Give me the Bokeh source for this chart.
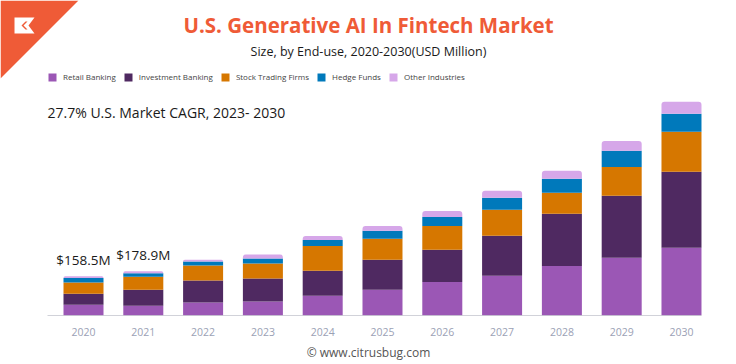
from bokeh.plotting import figure
from bokeh.models import (ColumnDataSource, Range1d, FixedTicker, Label, PolyAnnotation,
                          Legend, LegendItem)
from bokeh.core.properties import value
from bokeh.embed import file_html
from bokeh.resources import INLINE

# ---- data (USD million) ----
years = ["2020", "2021", "2022", "2023", "2024", "2025", "2026", "2027", "2028", "2029", "2030"]
retail_banking = [43.5, 40, 53, 57, 80, 104, 136, 161, 201, 234, 274]
investment_banking = [44.5, 64, 89, 93, 101, 122, 130, 162, 211, 251, 308]
stock_trading_firms = [46, 53, 61, 61, 101, 85, 97, 105, 85, 117, 162]
hedge_funds = [17.5, 14.5, 16, 20, 24, 32, 36, 49, 57, 65, 73]
other_industries = [7, 7.4, 7, 16, 16, 20, 24, 28, 32, 40, 49]
value_labels = ["$158.5M", "$178.9M"]

series = ["retail", "invest", "stock", "hedge", "other"]
names = ["Retail Banking", "Investment Banking", "Stock Trading Firms", "Hedge Funds", "Other Industries"]
colors = ["#9b57b5", "#4f2961", "#d67700", "#0079bb", "#d6a7e9"]

FONT = "Open Sans"
W, H = 736, 364
BOTTOM = 49
FH = H - BOTTOM

idx = list(range(len(years)))
src = ColumnDataSource(dict(x=idx, retail=retail_banking, invest=investment_banking,
                            stock=stock_trading_firms, hedge=hedge_funds, other=other_industries))

p = figure(width=W, height=H, output_backend="svg", toolbar_location=None,
           x_range=Range1d(-1.388, 10.920), y_range=Range1d(0, 1276),
           y_axis_location=None, min_border_left=0, min_border_right=0,
           min_border_top=0, min_border_bottom=BOTTOM)
p.outline_line_color = None
p.xgrid.grid_line_color = None
p.ygrid.grid_line_color = None
p.background_fill_color = "white"

BW = 0.669
rs = p.vbar_stack(series, x="x", width=BW, color=colors, source=src, line_color=None)
try:
    rs[-1].glyph.border_radius = (3, 3, 0, 0)
except Exception:
    pass

# baseline
p.segment(x0=[-0.602], x1=[len(years) - 1 + BW / 2], y0=[0], y1=[0], line_color="#a3a6b3", line_width=1.2)

# value labels
tot = [sum(v) for v in zip(retail_banking, investment_banking, stock_trading_firms, hedge_funds, other_industries)]
lsrc = ColumnDataSource(dict(x=idx[:len(value_labels)], y=tot[:len(value_labels)], t=value_labels))
p.text(x="x", y="y", text="t", source=lsrc, text_align="center", text_baseline="bottom",
       y_offset=-7, text_font=value(FONT), text_font_size="13.5px", text_color="#1a1a1a")

# x axis (footer credit used as axis label)
ax = p.xaxis[0]
ax.ticker = FixedTicker(ticks=idx)
ax.major_label_overrides = {i: y for i, y in zip(idx, years)}
ax.axis_line_color = None
ax.major_tick_line_color = None
ax.minor_tick_line_color = None
ax.major_label_standoff = 6
ax.major_label_text_font = FONT
ax.major_label_text_font_size = "10.5px"
ax.major_label_text_color = "#9ba1b5"
ax.axis_label = "© www.citrusbug.com"
ax.axis_label_standoff = 5
ax.axis_label_text_font = FONT
ax.axis_label_text_font_size = "12px"
ax.axis_label_text_font_style = "normal"
ax.axis_label_text_color = "#555555"


def S(px, py):
    return px, FH - py


# corner triangle and logo
tri = [S(0, 0), S(78, 0), S(0, 78)]
p.add_layout(PolyAnnotation(xs=[t[0] for t in tri], ys=[t[1] for t in tri], xs_units="screen", ys_units="screen",
                            fill_color="#ef5b37", fill_alpha=1, line_color=None))
logo = [S(14, 17), S(34, 17), S(28, 25), S(34, 33), S(14, 33)]
p.add_layout(PolyAnnotation(xs=[t[0] for t in logo], ys=[t[1] for t in logo], xs_units="screen", ys_units="screen",
                            fill_color="white", fill_alpha=1, line_color=None))
chev = [S(25, 21), S(27, 21), S(23, 25), S(27, 29), S(25, 29), S(21, 25)]
p.add_layout(PolyAnnotation(xs=[t[0] for t in chev], ys=[t[1] for t in chev], xs_units="screen", ys_units="screen",
                            fill_color="#ef5b37", fill_alpha=1, line_color=None))

# titles
x, y = S(368, 24)
p.add_layout(Label(x=x, y=y, x_units="screen", y_units="screen", text="U.S. Generative AI In Fintech Market",
                   text_align="center", text_baseline="middle", text_font=FONT, text_font_style="bold",
                   text_font_size="20.5px", text_color="#ef5b37"))
x, y = S(368, 51)
p.add_layout(Label(x=x, y=y, x_units="screen", y_units="screen", text="Size, by End-use, 2020-2030(USD Million)",
                   text_align="center", text_baseline="middle", text_font=FONT,
                   text_font_size="12.5px", text_color="#1a1a1a"))
x, y = S(47, 112)
p.add_layout(Label(x=x, y=y, x_units="screen", y_units="screen", text="27.7% U.S. Market CAGR, 2023- 2030",
                   text_align="left", text_baseline="middle", text_font=FONT,
                   text_font_size="14px", text_color="#1a1a1a"))

# legend
items = [LegendItem(label=n, renderers=[r]) for n, r in zip(names, rs)]
lx, ly = S(47, 82)
leg = Legend(items=items, orientation="horizontal", location=(lx, ly), padding=0, margin=0,
             spacing=7, label_standoff=6, glyph_width=10, glyph_height=10, label_height=10,
             label_text_font=FONT, label_text_font_size="8px", label_text_color="#444444",
             border_line_color=None, background_fill_alpha=0)
p.add_layout(leg, "center")

open("out.html", "w").write(file_html(p, INLINE))
